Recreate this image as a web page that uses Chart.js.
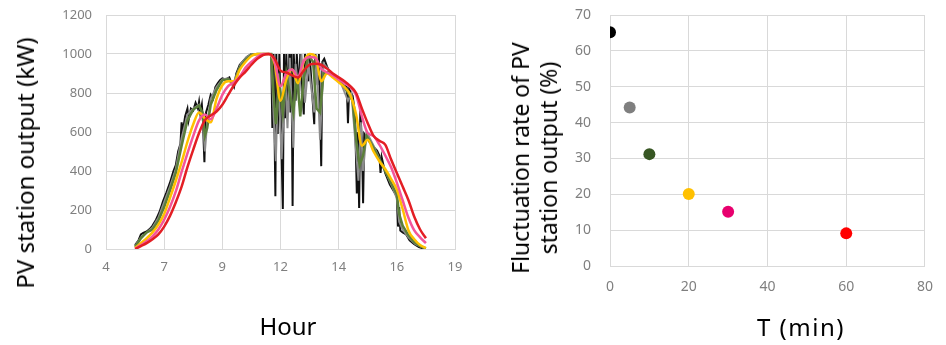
<!DOCTYPE html>
<html>
<head>
<meta charset="utf-8">
<script src="https://cdn.jsdelivr.net/npm/chart.js"></script>
<style>
  html, body {
    margin: 0;
    padding: 0;
    background: #ffffff;
  }
  #page {
    position: relative;
    width: 946px;
    height: 345px;
    overflow: hidden;
    font-family: "Noto Sans", "DejaVu Sans", sans-serif;
    color: #000000;
  }
  .panel {
    position: absolute;
    top: 0;
    line-height: 0;
  }
  .panel canvas {
    display: block;
  }
  .axis-title {
    position: absolute;
    white-space: nowrap;
    font-size: 24px;
    line-height: 28px;
    text-align: center;
    transform: translate(-50%, -50%);
  }
  .axis-title.vertical {
    transform: translate(-50%, -50%) rotate(-90deg);
  }
</style>
</head>
<body>
<div id="page">
  <div class="panel" style="left:0;"><canvas id="outputChart" width="475" height="345"></canvas></div>
  <div class="panel" style="left:480px;"><canvas id="rateChart" width="466" height="345"></canvas></div>

  <div class="axis-title vertical" style="left:25px; top:163px;">PV station output (kW)</div>
  <div class="axis-title" style="left:288px; top:326px;">Hour</div>
  <div class="axis-title vertical" style="left:534px; top:158px; font-size:23px;">Fluctuation rate of PV<br>station output (%)</div>
  <div class="axis-title" style="left:801px; top:327px; letter-spacing:1.5px;">T (min)</div>
</div>

<script>
// left chart: x axis ticks (shown labels are rounded hours)
const hourTickLabels = ["4", "7", "9", "12", "14", "16", "19"];

// raw output (1 s) - black
const rawHours = [
  5.25, 5.4, 5.5, 5.6, 5.75, 5.9, 6.0, 6.15, 6.3, 6.45, 6.6, 6.75, 6.9, 7.0, 7.1, 7.2, 7.25, 7.3, 7.4, 7.5,
  7.55, 7.65, 7.75, 7.85, 7.95, 8.0, 8.05, 8.12, 8.17, 8.2, 8.23, 8.26, 8.3, 8.4, 8.5, 8.6, 8.7, 8.8, 8.9, 9.0,
  9.15, 9.3, 9.4, 9.5, 9.6, 9.75, 9.9, 10.05, 10.25, 11.1, 11.15, 11.2, 11.28, 11.32, 11.38, 11.45, 11.6, 11.65, 11.7, 11.75,
  11.82, 11.88, 11.93, 11.97, 12.02, 12.07, 12.15, 12.2, 12.3, 12.35, 12.5, 12.55, 12.7, 12.75, 12.95, 13.0, 13.1, 13.15, 13.25, 13.3,
  13.38, 13.5, 13.65, 13.8, 14.0, 14.2, 14.35, 14.4, 14.45, 14.6, 14.7, 14.78, 14.82, 14.88, 14.93, 15.0, 15.05, 15.1, 15.25, 15.45,
  15.65, 15.75, 15.8, 15.85, 16.0, 16.2, 16.35, 16.5, 16.55, 16.6, 16.65, 16.75, 16.9, 17.05, 17.25, 17.45, 17.65
];
const rawKW = [
  20, 45, 75, 82, 90, 105, 120, 150, 190, 245, 290, 340, 400, 430, 500, 540, 650, 600, 680, 720,
  660, 720, 710, 750, 720, 755, 700, 740, 650, 540, 445, 600, 700, 740, 790, 770, 830, 850, 865, 875,
  870, 880, 850, 830, 900, 945, 965, 985, 1000, 1000, 620, 1000, 270, 1000, 590, 1000, 205, 1000, 670, 1000,
  740, 1000, 700, 1000, 220, 1000, 760, 1000, 810, 1000, 690, 1000, 860, 1000, 640, 1000, 840, 1000, 425, 960,
  975, 935, 900, 885, 860, 840, 830, 645, 820, 785, 700, 285, 600, 210, 710, 550, 235, 590, 560, 530,
  505, 480, 390, 470, 390, 330, 300, 270, 115, 215, 95, 85, 75, 45, 25, 10, 2
];

// 5 min average - gray
const gray5Hours = [
  5.25, 5.5, 5.75, 6.0, 6.25, 6.5, 6.75, 7.0, 7.25, 7.5, 7.75, 8.0, 8.15, 8.25, 8.35, 8.5, 8.75, 9.0, 9.25, 9.45,
  9.6, 9.8, 10.05, 10.25, 11.1, 11.2, 11.3, 11.4, 11.55, 11.7, 11.8, 11.9, 12.05, 12.15, 12.3, 12.4, 12.55, 12.7, 12.95, 13.05,
  13.2, 13.35, 13.5, 13.8, 14.1, 14.4, 14.55, 14.75, 14.85, 14.95, 15.05, 15.2, 15.5, 15.8, 16.0, 16.3, 16.5, 16.6, 16.75, 17.0,
  17.3, 17.7
];
const gray5KW = [
  15, 60, 85, 110, 160, 240, 320, 410, 570, 690, 720, 740, 690, 500, 650, 770, 830, 870, 875, 840,
  890, 950, 985, 1000, 1000, 700, 450, 900, 460, 900, 620, 980, 520, 950, 780, 1000, 750, 950, 700, 990,
  560, 950, 930, 880, 850, 760, 800, 500, 350, 650, 400, 600, 530, 450, 400, 320, 260, 140, 100, 60,
  25, 3
];

// 10 min average - green
const green10Hours = [
  5.25, 5.5, 5.75, 6.0, 6.25, 6.5, 6.75, 7.0, 7.25, 7.5, 7.75, 8.0, 8.15, 8.25, 8.35, 8.5, 8.75, 9.0, 9.25, 9.5,
  9.75, 10.0, 10.25, 10.5, 11.1, 11.2, 11.3, 11.45, 11.6, 11.75, 11.9, 12.05, 12.2, 12.35, 12.5, 12.7, 12.9, 13.05, 13.2, 13.35,
  13.6, 13.9, 14.2, 14.45, 14.6, 14.75, 14.9, 15.05, 15.2, 15.45, 15.7, 16.0, 16.25, 16.5, 16.6, 16.75, 17.0, 17.25, 17.5, 17.75
];
const green10KW = [
  10, 55, 85, 100, 145, 215, 300, 390, 530, 660, 715, 735, 700, 580, 620, 740, 815, 865, 870, 845,
  930, 970, 995, 1000, 1000, 800, 640, 850, 700, 900, 800, 700, 900, 680, 880, 990, 960, 720, 700, 900,
  910, 880, 840, 790, 760, 560, 430, 480, 580, 530, 470, 400, 340, 280, 180, 120, 70, 35, 15, 3
];

// 20, 30, 60 min averages share one time grid
const avgHours = [
  5.25, 5.5, 5.75, 6.0, 6.25, 6.5, 6.75, 7.0, 7.25, 7.5, 7.75, 8.0, 8.25, 8.5, 8.75, 9.0, 9.25,
  9.5, 9.75, 10.0, 10.25, 10.5, 10.75, 11.0, 11.25, 11.5, 11.75, 12.0, 12.25, 12.5, 12.75, 13.0, 13.25,
  13.5, 13.75, 14.0, 14.25, 14.5, 14.75, 15.0, 15.25, 15.5, 15.75, 16.0, 16.25, 16.5, 16.75, 17.0, 17.25,
  17.5, 17.75
];
const yellow20KW = [
  5, 30, 55, 85, 125, 180, 262, 350, 445, 550, 640, 700, 670, 650, 770, 840, 860,
  860, 920, 960, 990, 1000, 1000, 1000, 950, 760, 870, 920, 850, 960, 1000, 990, 860,
  900, 880, 855, 830, 790, 690, 530, 560, 500, 450, 410, 360, 305, 205, 95, 50,
  20, 5
];
const pink30KW = [
  2, 20, 40, 65, 100, 150, 215, 295, 395, 490, 580, 660, 690, 665, 720, 790, 835,
  855, 885, 930, 960, 985, 1000, 1000, 960, 835, 900, 920, 885, 965, 985, 980, 925,
  905, 890, 870, 850, 830, 790, 680, 595, 580, 535, 480, 420, 340, 250, 160, 95,
  60, 30
];
const red60KW = [
  0, 15, 30, 50, 75, 115, 170, 240, 320, 420, 510, 595, 660, 685, 705, 740, 790,
  840, 880, 910, 945, 975, 995, 1000, 975, 915, 905, 890, 880, 915, 945, 950, 945,
  925, 900, 880, 860, 835, 800, 720, 645, 580, 555, 535, 460, 390, 320, 250, 165,
  100, 55
];

// right chart: fluctuation rate vs averaging time
const averagingMinutes = [0, 5, 10, 20, 30, 60];
const fluctuationRate = [65.2, 44.2, 31.2, 20.1, 15.1, 9.1];
const rateColors = ["#000000", "#7f7f7f", "#375623", "#ffc000", "#e8006e", "#ff0000"];

const tickColor = "#7f7f7f";
const gridColor = "#d9d9d9";
const fontFamily = "'Noto Sans', 'DejaVu Sans', sans-serif";

function toPoints(xs, ys) {
  return xs.map((x, i) => ({ x, y: ys[i] }));
}

function lineSet(label, xs, ys, color, width, order, smooth) {
  return {
    label,
    data: toPoints(xs, ys),
    borderColor: color,
    borderWidth: width,
    pointRadius: 0,
    fill: false,
    order,
    cubicInterpolationMode: smooth ? "monotone" : "default",
    tension: 0
  };
}

// fixed axis width; tick padding should not push the plot top down
function fixYAxis(width) {
  return (scale) => {
    scale.width = width;
    scale.paddingTop = 8;
    scale.paddingBottom = 8;
  };
}

new Chart(document.getElementById("outputChart"), {
  type: "line",
  data: {
    datasets: [
      lineSet("60 min", avgHours, red60KW, "#e31e24", 2.5, 0, true),
      lineSet("30 min", avgHours, pink30KW, "#f4559a", 2.5, 1, true),
      lineSet("20 min", avgHours, yellow20KW, "#ffc000", 2.5, 2, true),
      lineSet("10 min", green10Hours, green10KW, "#5b7f3a", 2.5, 3, false),
      lineSet("5 min", gray5Hours, gray5KW, "#8c8c8c", 2, 4, false),
      lineSet("raw", rawHours, rawKW, "#111111", 2, 5, false)
    ]
  },
  options: {
    responsive: false,
    animation: false,
    devicePixelRatio: 1,
    layout: { padding: { left: 0, right: 20, top: 15, bottom: 0 } },
    plugins: { legend: { display: false }, tooltip: { enabled: false } },
    scales: {
      x: {
        type: "linear",
        min: 4,
        max: 19,
        afterFit: (scale) => { scale.height = 96; },
        grid: { color: gridColor, drawTicks: false },
        border: { color: gridColor },
        ticks: {
          stepSize: 2.5,
          padding: 10,
          color: tickColor,
          font: { family: fontFamily, size: 13 },
          callback: (value, index) => hourTickLabels[index]
        }
      },
      y: {
        min: 0,
        max: 1200,
        afterFit: fixYAxis(106),
        grid: { color: gridColor, drawTicks: false },
        border: { color: gridColor },
        ticks: {
          stepSize: 200,
          padding: 14,
          color: tickColor,
          font: { family: fontFamily, size: 13 },
          callback: (value) => String(value)
        }
      }
    }
  }
});

new Chart(document.getElementById("rateChart"), {
  type: "scatter",
  data: {
    datasets: [
      {
        label: "Fluctuation rate",
        data: toPoints(averagingMinutes, fluctuationRate),
        pointBackgroundColor: rateColors,
        pointBorderWidth: 0,
        pointRadius: 6
      }
    ]
  },
  options: {
    responsive: false,
    animation: false,
    devicePixelRatio: 1,
    layout: { padding: { left: 0, right: 12, top: 15, bottom: 0 } },
    plugins: { legend: { display: false }, tooltip: { enabled: false } },
    scales: {
      x: {
        type: "linear",
        min: 0,
        max: 80,
        afterFit: (scale) => { scale.height = 79; },
        grid: { color: gridColor, drawTicks: false },
        border: { color: gridColor },
        ticks: {
          stepSize: 20,
          padding: 13,
          color: tickColor,
          font: { family: fontFamily, size: 14 }
        }
      },
      y: {
        min: 0,
        max: 70,
        afterFit: fixYAxis(130),
        grid: { color: gridColor, drawTicks: false },
        border: { color: gridColor },
        ticks: {
          stepSize: 10,
          padding: 19,
          color: tickColor,
          font: { family: fontFamily, size: 14 }
        }
      }
    }
  }
});
</script>
</body>
</html>
